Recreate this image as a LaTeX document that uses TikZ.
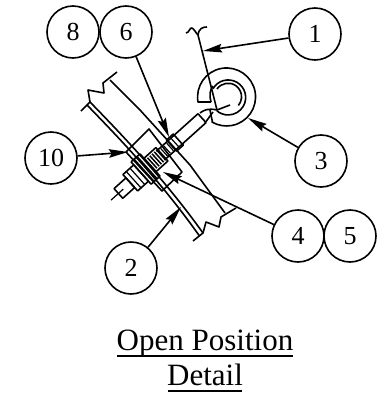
\documentclass[tikz,border=0pt]{standalone}
\usepackage{fontspec}
\setmainfont{Liberation Serif}
\usetikzlibrary{arrows.meta}
\tikzset{
  x=1pt,y=-1pt,
  num/.style={circle,draw,line width=1.6pt,minimum size=52pt,inner sep=0pt,font=\fontsize{26}{28}\selectfont},
  part/.style={line width=1.6pt,line join=round},
  fine/.style={line width=1.2pt},
  dense/.style={line width=1.5pt},
  leader/.style={line width=1.6pt,-{Stealth[length=19pt,width=8.5pt,inset=2.5pt]}},
  title/.style={font=\fontsize{31}{34}\selectfont,inner sep=0pt,anchor=base},
  rule/.style={line width=2pt}
}
\begin{document}
\begin{tikzpicture}
\useasboundingbox (0,0) rectangle (376,402);
\fill[white] (0,0) rectangle (376,402);
\node[num] (n8) at (73,32) {8};
\node[num] (n6) at (126,32) {6};
\node[num] (n1) at (315,34) {1};
\node[num] (n3) at (321,161) {3};
\node[num] (n10) at (51,158) {10};
\node[num] (n4) at (298,236) {4};
\node[num] (n5) at (350,236) {5};
\node[num] (n2) at (131,268) {2};
% wall
\draw[part] (90,102) .. controls (125,138) and (165,180) .. (203,233);
\draw[part] (87,105) .. controls (122,141) and (162,183) .. (199.5,236);
\draw[part] (110,80) -- (140,110) -- (190,165) -- (225,213);
\draw[part] (81,111) -- (90,102) -- (88,90) -- (104,93) -- (103,83) -- (117,72);
\draw[part] (193,241) -- (203,233) -- (206,222) -- (219,227) -- (221,217) -- (236,208);
% plate
\draw[part] (126,152) -- (149,129) -- (182,172) -- (162,191) -- cycle;
% bolt
\begin{scope}[shift={(150,165)},rotate=42]
  \draw[fine] (-52.5,0) -- (-36,0);
  \draw[part] (-42.5,-6.5) rectangle (-26.5,6.5);
  \draw[part] (-26.5,-11) rectangle (-12,11);
  \foreach \s in {-12,-8,...,0} \draw[part] (\s,-15) -- (\s,15);
  \draw[part] (-12,-15) -- (0,-15);
  \draw[part] (-12,15) -- (0,15);
  \foreach \s in {-22,-17} \draw[fine] (\s,-11) -- (\s,11);
  \draw[part] (0,-9) rectangle (16,9);
  \foreach \s in {3,6,...,15} \draw[dense] (\s,-7) -- (\s,7);
  \foreach \s in {19,23,27} \draw[fine] (\s,-5) -- (\s,5);
  \draw[part] (14,-6) -- (70,-6);
  \draw[part] (14,6) -- (70,6);
  \draw[part] (70,-6) -- (70,6);
  \draw[part] (29,-7.5) rectangle (38,7.5);
  \draw[fine] (33.5,-6) -- (33.5,6);
\end{scope}
% hook
\draw[part] (211,102) -- (198,102) arc[start angle=170,end angle=480,radius=29] .. controls (213,122) and (211,117) .. (210,110);
\draw[part] (211,102) .. controls (209,95) and (210,90) .. (213,86);
\draw[part] (217,110) -- (230,105);
\draw[part] (200,113) .. controls (204,110) and (208,108) .. (217,110);
\draw[part] (205,123) -- (213,112);
\draw[part] (217,89) arc[start angle=215,end angle=400,radius=13.5];
\draw[part] (213,88.7) arc[start angle=210,end angle=490,radius=17.5];
% wire
\draw[part] (186,33) .. controls (189,33) and (190,27) .. (192,28) .. controls (194,29) and (196,33) .. (198,35) -- (217,110);
\draw[part] (198,35) .. controls (199,28) and (203,27) .. (207,27);
% leaders
\draw[leader] (n1) -- (203,51);
\draw[leader] (n3) -- (248,118);
\draw[leader] (n6) -- (169,137);
\draw[leader] (n10) -- (128,152);
\draw[leader] (n2) -- (181,207);
\draw[leader] (n4) -- (163,172);
\node[title] (t1) at (205,350) {Open Position};
\node[title] (t2) at (205,385) {Detail};
\draw[rule] (117,356) -- (293,356);
\draw[rule] (168,391) -- (242,391);
\end{tikzpicture}
\end{document}
